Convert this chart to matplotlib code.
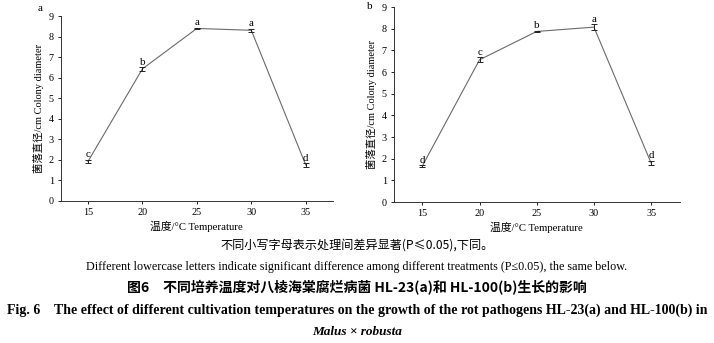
import matplotlib
matplotlib.use("Agg")
import matplotlib.pyplot as plt

temps = [15, 20, 25, 30, 35]
hl23_mean = [1.92, 6.43, 8.40, 8.31, 1.75]
hl23_err = [0.08, 0.08, 0.03, 0.07, 0.08]
hl23_letters = ["c", "b", "a", "a", "d"]
hl100_mean = [1.66, 6.57, 7.88, 8.08, 1.80]
hl100_err = [0.05, 0.12, 0.03, 0.13, 0.10]
hl100_letters = ["d", "c", "b", "a", "d"]
yticks = list(range(0, 10))

SERIF = ["Liberation Serif", "Noto Sans CJK SC"]
CJK = ["Noto Sans CJK SC", "Liberation Serif"]
plt.rcParams["font.family"] = SERIF

fig = plt.figure(figsize=(7.14, 3.43), dpi=100)
axa = fig.add_axes([0.085, 0.414, 0.3814, 0.539])
axb = fig.add_axes([0.5514, 0.411, 0.4006, 0.568])

fits = []  # (text, target px, use_height)

def draw(ax, mean, err, letters):
    ax.plot(temps, mean, color="#6a6a6a", lw=0.8, zorder=2)
    ax.errorbar(temps, mean, yerr=err, fmt="none", ecolor="#222222",
                elinewidth=0.7, capsize=2, capthick=0.7, zorder=3)
    for x, y, e, l in zip(temps, mean, err, letters):
        ax.annotate(l, (x, y + e), xytext=(0, 0.3), textcoords="offset points",
                    ha="center", va="bottom", fontsize=7.8, family=SERIF)
    ax.set_xlim(12.5, 37.5)
    ax.set_ylim(0, 9)
    ax.set_xticks(temps)
    ax.set_yticks(yticks)
    for s in ("top", "right"):
        ax.spines[s].set_visible(False)
    for s in ("left", "bottom"):
        ax.spines[s].set_linewidth(0.7)
        ax.spines[s].set_color("#333333")
    ax.tick_params(direction="out", length=2.5, width=0.6, labelsize=7.3, pad=2.5)
    xl = ax.set_xlabel("温度/°C Temperature", fontsize=7, family=SERIF, labelpad=2.5)
    yl = ax.set_ylabel("菌落直径/cm Colony diameter", fontsize=7, family=SERIF, labelpad=3)
    fits.append((xl, 94, False))
    fits.append((yl, 130, True))

draw(axa, hl23_mean, hl23_err, hl23_letters)
draw(axb, hl100_mean, hl100_err, hl100_letters)

fig.text(0.056, 0.974, "a", fontsize=8, family=SERIF, ha="center", va="center")
fig.text(0.518, 0.980, "b", fontsize=8, family=SERIF, ha="center", va="center")

t1 = fig.text(0.5, 1 - 245 / 343, "不同小写字母表示处理间差异显著(P≤0.05),下同。",
              fontsize=8, family=CJK, ha="center", va="center")
t2 = fig.text(0.5, 1 - 267 / 343,
              "Different lowercase letters indicate significant difference among different treatments (P≤0.05), the same below.",
              fontsize=8, family=SERIF, ha="center", va="center")
t3 = fig.text(0.5, 1 - 288 / 343, "图6　不同培养温度对八棱海棠腐烂病菌 HL-23(a)和 HL-100(b)生长的影响",
              fontsize=9, family=CJK, weight="bold", ha="center", va="center")
t4 = fig.text(0.5, 1 - 310 / 343,
              "Fig. 6    The effect of different cultivation temperatures on the growth of the rot pathogens HL-23(a) and HL-100(b) in",
              fontsize=9, family=SERIF, weight="bold", ha="center", va="center")
t5 = fig.text(0.5, 1 - 332 / 343, "Malus × robusta",
              fontsize=9, family=SERIF, weight="bold", style="italic", ha="center", va="center")
fits += [(t1, 273, False), (t2, 539, False), (t3, 462, False), (t4, 697, False), (t5, 90, False)]

fig.canvas.draw()
r = fig.canvas.get_renderer()
for t, target, vert in fits:
    bb = t.get_window_extent(renderer=r)
    cur = bb.height if vert else bb.width
    if cur > 0:
        t.set_fontsize(t.get_fontsize() * target / cur)

fig.savefig("out.png", dpi=100)
